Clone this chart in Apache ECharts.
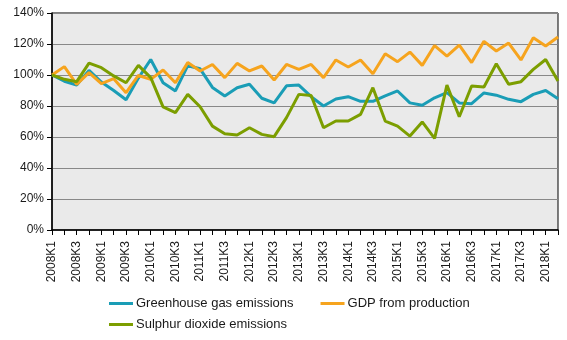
<!DOCTYPE html>
<html>
<head>
<meta charset="utf-8">
<script src="https://cdn.jsdelivr.net/npm/echarts@6/dist/echarts.min.js"></script>
<style>
  html, body { margin: 0; padding: 0; background: #fff; }
  #chart { width: 567px; height: 340px; }
</style>
</head>
<body>
<div id="chart"></div>
<script>
// Quarterly index values (percent, 2008K1 = 100)
const quarters = [];
for (let y = 2008; y <= 2018; y++) {
  for (let q = 1; q <= 4; q++) {
    if (y === 2018 && q > 2) break;
    quarters.push(y + 'K' + q);
  }
}

const greenhouseGas = [
  100, 96, 93.5, 103, 95.5, 90, 84, 98, 110, 95,
  89.7, 106, 104, 92, 86.5, 91.8, 94, 85, 82, 93,
  93.5, 86, 80, 84.5, 86, 83, 83, 86.5, 89.7, 82,
  80.5, 85.3, 88.6, 82, 81.5, 88.4, 87, 84.3, 82.8, 87.5,
  90, 84.7
];

const gdpProduction = [
  100, 105.4, 94, 101.5, 94.4, 97.6, 88.6, 99.7, 97.2, 103.2,
  95, 108, 102.6, 106.8, 98.3, 107.5, 102.6, 105.8, 96.8, 106.8,
  103.6, 106.8, 98.3, 109.7, 105.2, 109.7, 100.8, 113.7, 108.6, 114.8,
  106.2, 119, 112.2, 119.3, 108, 121.7, 115.5, 120.6, 109.7, 124,
  118.7, 124.5
];

const sulphurDioxide = [
  100, 97.2, 95.7, 107.7, 104.7, 99.4, 95, 106.2, 98.3, 79.4,
  75.7, 87.5, 79.5, 67, 62.1, 61.3, 66, 61.7, 60.2, 72.5,
  87.5, 86.8, 66, 70.3, 70.3, 74.6, 91.8, 70.3, 67, 60.6,
  69.7, 59.1, 93.5, 73.1, 92.9, 92.3, 107.3, 94, 95.7, 103.6,
  110, 96.1
];

const yTicks = { min: 0, max: 140, step: 20 };

const seriesNames = ['Greenhouse gas emissions', 'GDP from production', 'Sulphur dioxide emissions'];
const seriesColors = ['#1A9DB6', '#F6A41E', '#7C9E00'];

const chart = echarts.init(document.getElementById('chart'), null, { renderer: 'canvas' });

const textFont = { fontFamily: 'Liberation Sans, Arial, sans-serif', color: '#1a1a1a' };

function lineSeries(name, data, color) {
  return {
    name: name,
    type: 'line',
    data: data,
    symbol: 'none',
    smooth: false,
    lineStyle: { color: color, width: 3 },
    itemStyle: { color: color },
    z: 3
  };
}

chart.setOption({
  animation: false,
  backgroundColor: '#ffffff',
  grid: {
    left: 52, right: 9, top: 13, bottom: 110,
    show: true,
    backgroundColor: '#EAEAEA',
    borderColor: '#000000',
    borderWidth: 1
  },
  legend: [
    {
      data: [seriesNames[0], seriesNames[1]],
      left: 104, top: 292,
      icon: 'rect',
      itemWidth: 24, itemHeight: 3,
      itemGap: 27,
      textStyle: Object.assign({ fontSize: 13, padding: [0, 0, 0, -2] }, textFont)
    },
    {
      data: [seriesNames[2]],
      left: 104, top: 313,
      icon: 'rect',
      itemWidth: 24, itemHeight: 3,
      textStyle: Object.assign({ fontSize: 13, padding: [0, 0, 0, -2] }, textFont)
    }
  ],
  xAxis: {
    type: 'category',
    data: quarters,
    boundaryGap: false,
    axisLine: { lineStyle: { color: '#000', width: 1.5 } },
    axisTick: { show: true, interval: 0, length: 5, inside: false, lineStyle: { color: '#000' } },
    axisLabel: Object.assign({
      rotate: 90,
      interval: 1,
      fontSize: 12,
      margin: 11
    }, textFont),
    splitLine: { show: false }
  },
  yAxis: {
    type: 'value',
    min: yTicks.min,
    max: yTicks.max,
    interval: yTicks.step,
    axisLine: { show: true, lineStyle: { color: '#000', width: 1.5 } },
    axisTick: { show: true, length: 5, lineStyle: { color: '#000' } },
    axisLabel: Object.assign({
      fontSize: 12,
      margin: 8,
      formatter: function (v) { return v + '%'; }
    }, textFont),
    splitLine: { show: true, lineStyle: { color: '#888888', width: 1.2 } }
  },
  series: [
    lineSeries(seriesNames[0], greenhouseGas, seriesColors[0]),
    lineSeries(seriesNames[1], gdpProduction, seriesColors[1]),
    lineSeries(seriesNames[2], sulphurDioxide, seriesColors[2])
  ]
});
</script>
</body>
</html>
